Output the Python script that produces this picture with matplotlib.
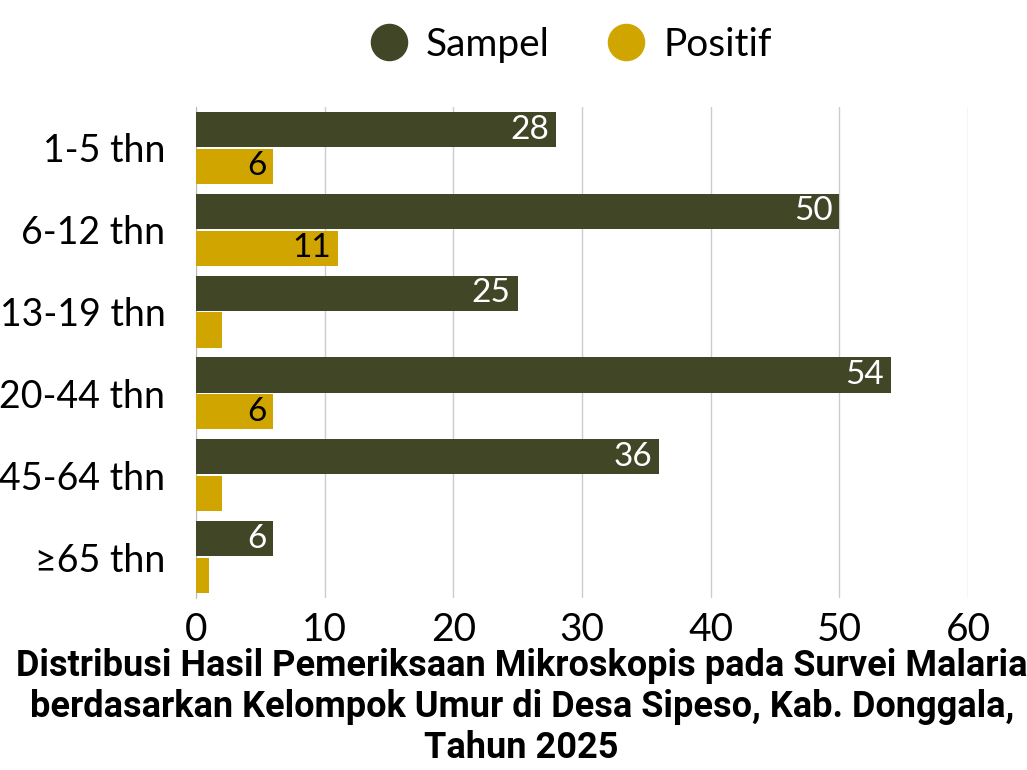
import matplotlib
matplotlib.use("Agg")
import matplotlib.pyplot as plt
from matplotlib.lines import Line2D
import numpy as np

categories = ["1-5 thn", "6-12 thn", "13-19 thn", "20-44 thn", "45-64 thn", "≥65 thn"]
sampel = [28, 50, 25, 54, 36, 6]
positif = [6, 11, 2, 6, 2, 1]
xticks = [0, 10, 20, 30, 40, 50, 60]

c_s = "#404626"
c_p = "#D0A500"
font = ["Lato", "DejaVu Sans"]

fig = plt.figure(figsize=(10.27, 7.7), dpi=100)
ax = fig.add_axes([196/1027, 1-598/770, (968-196)/1027, (598-107)/770])

y = np.arange(len(categories))
h = 0.43
b1 = ax.barh(y - h/2 - 0.01, sampel, height=h, color=c_s, zorder=3)
b2 = ax.barh(y + h/2 + 0.01, positif, height=h, color=c_p, zorder=3)

for rect, v in zip(b1, sampel):
    if v >= 5:
        ax.annotate(str(v), (v, rect.get_y() + rect.get_height()/2), xytext=(-5, 0),
                    textcoords="offset points", ha="right", va="center",
                    color="white", fontsize=24, family=font, zorder=4)
for rect, v in zip(b2, positif):
    if v >= 5:
        ax.annotate(str(v), (v, rect.get_y() + rect.get_height()/2), xytext=(-5, 0),
                    textcoords="offset points", ha="right", va="center",
                    color="black", fontsize=24, family=font, zorder=4)

ax.set_xlim(0, 60)
ax.set_ylim(len(categories) - 0.5, -0.5)
ax.set_xticks(xticks)
ax.set_xticklabels([str(t) for t in xticks], fontsize=28, family=font)
ax.set_yticks(y)
ax.set_yticklabels(categories, fontsize=27, family=font)
ax.tick_params(axis="both", length=0)
ax.tick_params(axis="y", pad=22)
ax.tick_params(axis="x", pad=10)
ax.grid(axis="x", color="#cccccc", linewidth=1, zorder=0)
for s in ["top", "right", "bottom"]:
    ax.spines[s].set_visible(False)
ax.spines["left"].set_color("#bbbbbb")

handles = [Line2D([], [], marker="o", linestyle="", markersize=26, color=c_s, label="Sampel"),
           Line2D([], [], marker="o", linestyle="", markersize=26, color=c_p, label="Positif")]
fig.legend(handles=handles, loc="center", bbox_to_anchor=(0.546, 1-45/770), ncol=2,
           frameon=False, prop={"family": font, "size": 28}, handletextpad=-0.05,
           columnspacing=0.97)

fig.text(0.508, 1-707/770,
         "Distribusi Hasil Pemeriksaan Mikroskopis pada Survei Malaria\n"
         "berdasarkan Kelompok Umur di Desa Sipeso, Kab. Donggala,\nTahun 2025",
         ha="center", va="center", fontsize=26, fontweight="bold",
         family=["Roboto", "DejaVu Sans"], linespacing=1.17)

fig.savefig("out.png", dpi=100)
